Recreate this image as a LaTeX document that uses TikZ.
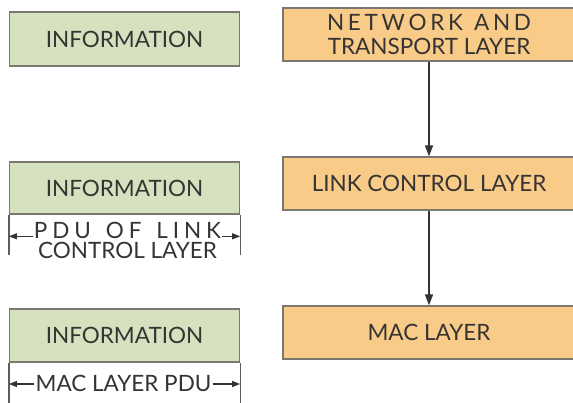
\documentclass[tikz,border=0pt]{standalone}
\usepackage{fontspec}
\setmainfont{Lato}
\usetikzlibrary{arrows.meta,calc}
\definecolor{gfill}{HTML}{D6E2BF}
\definecolor{ofill}{HTML}{F9CB88}
\definecolor{bord}{HTML}{7C7870}
\definecolor{txt}{HTML}{363432}
\tikzset{
  greenbox/.style={draw=bord, fill=gfill, line width=1.2pt, minimum width=230pt, minimum height=54pt, inner sep=0pt, text=txt, font=\fontsize{22.5}{24}\selectfont},
  orangebox/.style={draw=bord, fill=ofill, line width=1.2pt, minimum width=292pt, minimum height=53pt, inner sep=0pt, text=txt, align=center, font=\fontsize{22.5}{23.5}\selectfont},
  flow/.style={draw=txt, line width=1.5pt, -{Triangle[length=11pt,width=8pt]}},
  wall/.style={draw=txt!80, line width=1.2pt},
  span/.style={draw=txt, line width=1.1pt, -{Triangle[length=8pt,width=6pt]}},
  lbl/.style={text=txt, inner sep=0pt, font=\fontsize{22.5}{24}\selectfont}
}
\begin{document}
\begin{tikzpicture}[x=1pt,y=-1pt]
\useasboundingbox (0,0) rectangle (573,403);
\clip (0,0) rectangle (573,403);
% left column
\node[greenbox] (info1) at (124.5,39) {INFORMATION};
\node[greenbox, minimum height=52pt] (info2) at (124.5,188) {INFORMATION};
\node[greenbox, minimum height=53pt] (info3) at (124.5,335.5) {INFORMATION};
% walls
\draw[wall] (info2.south west) -- ++(0,40) coordinate (w2l);
\draw[wall] (info2.south east) -- ++(0,40) coordinate (w2r);
\draw[wall] (info3.south west) -- ++(0,45) coordinate (w3l);
\draw[wall] (info3.south east) -- ++(0,45) coordinate (w3r);
% labels
\node[lbl, anchor=north, align=center, font=\fontsize{22.5}{20}\selectfont] (pdu1) at (127.5,221.8) {\makebox[187pt][s]{P\hfill D\hfill U\hfill\hfill\hfill O\hfill F\hfill\hfill\hfill L\hfill I\hfill N\hfill K}\\CONTROL LAYER};
\node[lbl, anchor=base] (pdu3) at (123.5,391.5) {MAC LAYER PDU};
\coordinate (a1l) at ($(pdu1.north west)+(-1,14.5)$);
\coordinate (a1r) at ($(pdu1.north east)+(1,14.5)$);
\draw[span] (a1l) -- (info2.west |- a1l);
\draw[span] (a1r) -- (info2.east |- a1r);
\coordinate (a3l) at ($(pdu3.base west)+(-1,-7.5)$);
\coordinate (a3r) at ($(pdu3.base east)+(1,-7.5)$);
\draw[span] (a3l) -- (info3.west |- a3l);
\draw[span] (a3r) -- (info3.east |- a3r);
% right column
\node[orangebox] (net) at (429,34.5) {\makebox[204pt][s]{N\hfill E\hfill T\hfill W\hfill O\hfill R\hfill K\hfill\hfill\hfill A\hfill N\hfill D}\\TRANSPORT LAYER};
\node[orangebox] (link) at (429,183.5) {LINK CONTROL LAYER};
\node[orangebox] (mac) at (429,332.5) {MAC LAYER};
\draw[flow] (net) -- (link);
\draw[flow] (link) -- (mac);
\end{tikzpicture}
\end{document}
